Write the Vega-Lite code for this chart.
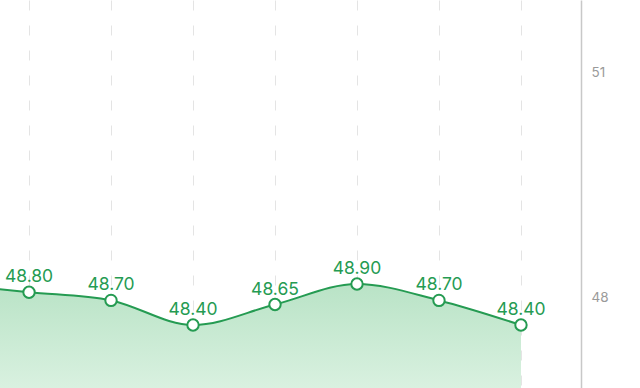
{
  "$schema": "https://vega.github.io/schema/vega-lite/v6.json",
  "autosize": {"type": "none"},
  "padding": {"left": 0, "top": 0, "right": 59, "bottom": 0},
  "width": 581,
  "height": 388,
  "background": "#ffffff",
  "config": {"view": {"stroke": null}},
  "data": {
    "values": [
      {"i": 0, "v": 48.90, "label": "48.90"},
      {"i": 1, "v": 48.80, "label": "48.80"},
      {"i": 2, "v": 48.70, "label": "48.70"},
      {"i": 3, "v": 48.40, "label": "48.40"},
      {"i": 4, "v": 48.65, "label": "48.65"},
      {"i": 5, "v": 48.90, "label": "48.90"},
      {"i": 6, "v": 48.70, "label": "48.70"},
      {"i": 7, "v": 48.40, "label": "48.40"}
    ]
  },
  "encoding": {
    "x": {
      "field": "i",
      "type": "quantitative",
      "scale": {"domain": [0.646, 7.732], "nice": false, "zero": false},
      "axis": {
        "values": [1, 2, 3, 4, 5, 6, 7],
        "grid": true,
        "gridColor": "#e4e4e4",
        "gridWidth": 1,
        "gridDash": [10, 15],
        "domain": false,
        "ticks": false,
        "labels": false,
        "title": null
      }
    }
  },
  "layer": [
    {
      "mark": {
        "type": "area",
        "interpolate": "monotone",
        "clip": true,
        "color": {
          "gradient": "linear",
          "x1": 0, "y1": 0, "x2": 0, "y2": 1,
          "stops": [
            {"offset": 0, "color": "#b9e3c6"},
            {"offset": 1, "color": "#d9f1e0"}
          ]
        }
      },
      "encoding": {
        "y": {
          "field": "v",
          "type": "quantitative",
          "scale": {"domain": [47.632, 52.363], "nice": false, "zero": false},
          "axis": null
        },
        "y2": {"datum": 47.632}
      }
    },
    {
      "mark": {"type": "line", "interpolate": "monotone", "clip": true, "color": "#259b52", "strokeWidth": 2},
      "encoding": {
        "y": {"field": "v", "type": "quantitative", "scale": {"domain": [47.632, 52.363], "nice": false, "zero": false}, "axis": null}
      }
    },
    {
      "transform": [{"filter": "datum.i >= 1"}],
      "mark": {"type": "point", "clip": true, "filled": true, "fill": "#ffffff", "stroke": "#259b52", "strokeWidth": 2, "size": 130, "opacity": 1},
      "encoding": {
        "y": {"field": "v", "type": "quantitative", "scale": {"domain": [47.632, 52.363], "nice": false, "zero": false}, "axis": null}
      }
    },
    {
      "transform": [{"filter": "datum.i >= 1"}],
      "mark": {"type": "text", "clip": true, "color": "#259b52", "font": "Inter", "fontSize": 17.5, "baseline": "alphabetic", "align": "center", "dy": -10},
      "encoding": {
        "y": {"field": "v", "type": "quantitative", "scale": {"domain": [47.632, 52.363], "nice": false, "zero": false}, "axis": null},
        "text": {"field": "label"}
      }
    },
    {
      "mark": {"type": "point", "opacity": 0},
      "encoding": {
        "y": {
          "field": "v",
          "type": "quantitative",
          "scale": {"domain": [46.8, 51.973], "nice": false, "zero": false},
          "axis": {
            "orient": "right",
            "values": [48, 51],
            "format": "d",
            "domain": true,
            "domainColor": "#c8c8c8",
            "domainWidth": 1.5,
            "ticks": false,
            "grid": false,
            "labelColor": "#9a9a9a",
            "labelFont": "Inter",
            "labelFontSize": 13.5,
            "labelPadding": 10,
            "title": null
          }
        }
      }
    }
  ],
  "resolve": {"scale": {"y": "independent"}}
}
